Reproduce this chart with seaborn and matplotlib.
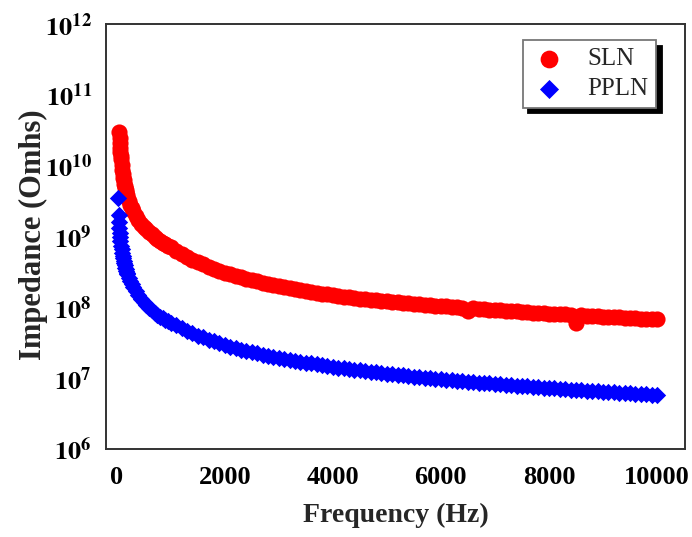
import math
import pandas as pd
import matplotlib
matplotlib.use('Agg')
import matplotlib.pyplot as plt
import matplotlib.ticker as mticker
import seaborn as sns

# puntos de baja frecuencia (Hz), la curva cae muy rapido aqui
freq_low_sln = [50, 55, 60, 65, 70, 75, 80, 90, 100, 110, 120, 130, 140, 150, 160, 170, 180, 190,
                200, 225, 250, 275, 300, 350, 400, 450, 500, 550, 600, 650, 700, 750, 800, 850, 900, 950]
z_low_sln = [3.0e10, 2.5e10, 2.1e10, 1.78e10, 1.55e10, 1.38e10, 1.23e10, 1.02e10, 8.7e9, 7.6e9,
             6.8e9, 6.2e9, 5.6e9, 5.1e9, 4.8e9, 4.5e9, 4.2e9, 3.9e9,
             3.6e9, 3.2e9, 2.8e9, 2.5e9, 2.3e9, 1.95e9, 1.70e9, 1.51e9, 1.38e9, 1.26e9,
             1.15e9, 1.07e9, 1.0e9, 9.3e8, 8.7e8, 8.1e8, 7.8e8, 7.4e8]

freq_low_ppln = [20, 40, 45, 50, 55, 60, 70, 80, 90, 100, 110, 120, 130, 140, 150, 160, 170, 180, 190,
                 200, 225, 250, 275, 300, 350, 400, 450, 500, 550, 600, 650, 700, 750, 800, 850, 900, 950]
z_low_ppln = [3.5e9, 2.0e9, 1.6e9, 1.3e9, 1.12e9, 1.0e9, 8.6e8, 7.4e8, 6.6e8, 5.9e8,
              5.35e8, 4.9e8, 4.5e8, 4.2e8, 3.9e8, 3.65e8, 3.45e8, 3.25e8, 3.1e8,
              2.95e8, 2.6e8, 2.35e8, 2.15e8, 1.96e8, 1.68e8, 1.47e8, 1.31e8, 1.18e8, 1.07e8,
              9.8e7, 9.1e7, 8.4e7, 7.9e7, 7.4e7, 7.0e7, 6.7e7, 6.4e7]

# barrido comun desde 1 kHz
freq_hz = [
    1000, 1100, 1200, 1300, 1400, 1500, 1600, 1700, 1800, 1900, 2000,
    2100, 2200, 2300, 2400, 2500, 2600, 2700, 2800, 2900, 3000,
    3100, 3200, 3300, 3400, 3500, 3600, 3700, 3800, 3900, 4000,
    4100, 4200, 4300, 4400, 4500, 4600, 4700, 4800, 4900, 5000,
    5100, 5200, 5300, 5400, 5500, 5600, 5700, 5800, 5900, 6000,
    6100, 6200, 6300, 6400, 6500, 6600, 6700, 6800, 6900, 7000,
    7100, 7200, 7300, 7400, 7500, 7600, 7700, 7800, 7900, 8000,
    8100, 8200, 8300, 8400, 8500, 8600, 8700, 8800, 8900, 9000,
    9100, 9200, 9300, 9400, 9500, 9600, 9700, 9800, 9900, 10000,
]

z_sln = [
    7.08e8, 6.31e8, 5.69e8, 5.16e8, 4.73e8, 4.36e8, 4.03e8, 3.75e8, 3.50e8, 3.27e8, 3.08e8,
    2.92e8, 2.78e8, 2.65e8, 2.54e8, 2.43e8, 2.33e8, 2.24e8, 2.15e8, 2.07e8, 2.00e8,
    1.93e8, 1.87e8, 1.81e8, 1.75e8, 1.70e8, 1.65e8, 1.60e8, 1.56e8, 1.52e8, 1.48e8,
    1.45e8, 1.42e8, 1.39e8, 1.36e8, 1.33e8, 1.31e8, 1.29e8, 1.26e8, 1.24e8, 1.22e8,
    1.20e8, 1.18e8, 1.16e8, 1.14e8, 1.12e8, 1.11e8, 1.09e8, 1.08e8, 1.06e8, 1.04e8,
    1.03e8, 1.02e8, 1.00e8, 9.91e7, 8.90e7, 9.64e7, 9.51e7, 9.40e7, 9.27e7, 9.16e7,
    9.06e7, 8.95e7, 8.85e7, 8.75e7, 8.65e7, 8.55e7, 8.45e7, 8.36e7, 8.26e7, 8.18e7,
    8.09e7, 8.02e7, 7.93e7, 7.85e7, 6.00e7, 7.69e7, 7.62e7, 7.55e7, 7.48e7, 7.41e7,
    7.35e7, 7.28e7, 7.21e7, 7.14e7, 7.08e7, 7.02e7, 6.95e7, 6.89e7, 6.84e7, 6.78e7,
]

z_ppln = [
    6.1e7, 5.55e7, 5.05e7, 4.65e7, 4.30e7, 4.00e7, 3.75e7, 3.50e7, 3.30e7, 3.12e7, 2.95e7,
    2.76e7, 2.64e7, 2.52e7, 2.42e7, 2.32e7, 2.23e7, 2.15e7, 2.07e7, 2.00e7, 1.93e7,
    1.87e7, 1.81e7, 1.76e7, 1.71e7, 1.66e7, 1.61e7, 1.57e7, 1.53e7, 1.49e7, 1.45e7,
    1.41e7, 1.38e7, 1.35e7, 1.32e7, 1.29e7, 1.26e7, 1.23e7, 1.21e7, 1.18e7, 1.16e7,
    1.14e7, 1.12e7, 1.09e7, 1.07e7, 1.05e7, 1.04e7, 1.02e7, 1.00e7, 9.83e6, 9.67e6,
    9.51e6, 9.35e6, 9.21e6, 9.06e6, 8.92e6, 8.79e6, 8.66e6, 8.53e6, 8.41e6, 8.29e6,
    8.17e6, 8.06e6, 7.95e6, 7.84e6, 7.73e6, 7.63e6, 7.53e6, 7.44e6, 7.34e6, 7.25e6,
    7.16e6, 7.07e6, 6.99e6, 6.90e6, 6.82e6, 6.74e6, 6.67e6, 6.59e6, 6.52e6, 6.44e6,
    6.37e6, 6.30e6, 6.24e6, 6.17e6, 6.11e6, 6.04e6, 5.98e6, 5.92e6, 5.86e6, 5.80e6,
]

x_ticks = [0, 2000, 4000, 6000, 8000, 10000]
y_ticks = [1e6, 1e7, 1e8, 1e9, 1e10, 1e11, 1e12]

sns.set_style('white')
plt.rcParams['font.family'] = ['Liberation Serif', 'DejaVu Serif']
plt.rcParams['font.weight'] = 'bold'
plt.rcParams['mathtext.fontset'] = 'stix'

df_sln = pd.DataFrame({'freq': freq_low_sln + freq_hz, 'z': z_low_sln + z_sln})
df_ppln = pd.DataFrame({'freq': freq_low_ppln + freq_hz, 'z': z_low_ppln + z_ppln})

fig = plt.figure(figsize=(6.92, 5.37), dpi=100)
ax = fig.add_axes([0.153, 0.164, 0.837, 0.791])

sns.scatterplot(data=df_sln, x='freq', y='z', marker='o', color='#ff0000',
                s=135, linewidth=0, label='SLN', ax=ax)
sns.scatterplot(data=df_ppln, x='freq', y='z', marker='D', color='#0000ff',
                s=78, linewidth=0, label='PPLN', ax=ax)

ax.set_yscale('log')
ax.set_ylim(1e6, 1e12)
ax.set_xlim(-200, 10520)
ax.set_xticks(x_ticks)
ax.yaxis.set_major_locator(mticker.FixedLocator(y_ticks))
ax.yaxis.set_minor_locator(mticker.LogLocator(base=10, subs=range(2, 10), numticks=10))
ax.yaxis.set_minor_formatter(mticker.NullFormatter())


def exp_fmt(v, pos):
    return r'$\mathbf{10^{%d}}$' % int(round(math.log10(v)))


ax.yaxis.set_major_formatter(mticker.FuncFormatter(exp_fmt))

for sp in ax.spines.values():
    sp.set_linewidth(1.4)
    sp.set_color('#333333')

ax.tick_params(axis='x', which='major', direction='out', length=8, width=1.4,
               colors='#333333', labelsize=19, labelcolor='black', pad=4)
ax.tick_params(axis='y', which='major', direction='inout', length=14, width=1.2,
               colors='#333333', labelsize=19, labelcolor='black', pad=3)
ax.tick_params(axis='y', which='minor', direction='in', length=4, width=1.0,
               colors='#333333')
for lab in ax.get_xticklabels():
    lab.set_fontweight('bold')

ax.set_xlabel('Frequency (Hz)', fontsize=20, fontweight='bold', labelpad=10)
ax.set_ylabel('Impedance (Omhs)', fontsize=22, fontweight='bold')
ax.yaxis.set_label_coords(-0.10, 0.505)

leg = ax.legend(loc='upper right', bbox_to_anchor=(0.950, 0.962), borderaxespad=0,
                fancybox=False, framealpha=1, edgecolor='#777777', markerscale=1.1,
                shadow={'ox': 4, 'oy': -4, 'facecolor': 'black', 'edgecolor': 'black', 'alpha': 1},
                prop={'family': 'Liberation Serif', 'weight': 'normal', 'size': 18},
                handletextpad=0.8, borderpad=0.3, labelspacing=0.3, handlelength=1.5)
leg.get_frame().set_linewidth(1.3)

fig.savefig('out.png', dpi=100)
